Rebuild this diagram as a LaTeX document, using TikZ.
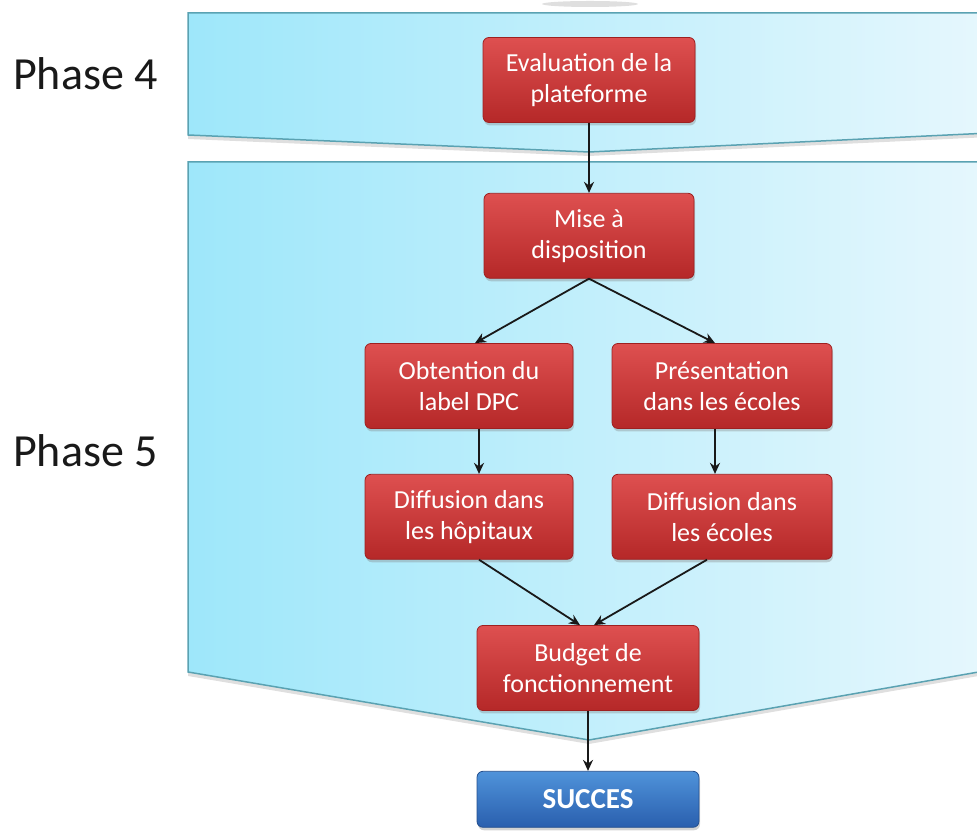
\documentclass[tikz,border=0pt]{standalone}
\usepackage{fontspec}
\setmainfont{Carlito}
\usepackage{tikz}
\usetikzlibrary{positioning}
\usetikzlibrary{shadows}
\usetikzlibrary{arrows.meta}

\definecolor{bandleft}{HTML}{9EE7FA}
\definecolor{bandright}{HTML}{E6F7FD}
\definecolor{bandline}{HTML}{5AA2B2}
\definecolor{tasktop}{HTML}{DE5050}
\definecolor{taskbottom}{HTML}{B52828}
\definecolor{taskline}{HTML}{9E2020}
\definecolor{goaltop}{HTML}{4F93DA}
\definecolor{goalbottom}{HTML}{2A5FAE}
\definecolor{goalline}{HTML}{25508F}

\newcommand{\taskfont}{\fontsize{26}{31}\selectfont}
\newcommand{\goalfont}{\fontsize{29}{34}\selectfont\bfseries}
\newcommand{\phasefont}{\fontsize{46}{54}\selectfont}

\begin{document}
\begin{tikzpicture}[
		x=1pt,y=1pt,
		>={Stealth[length=11pt,width=10pt]},
		band/.style={draw=bandline,line width=1.5pt,left color=bandleft,right color=bandright,
			drop shadow={shadow xshift=0pt,shadow yshift=-4pt,opacity=0.25}},
		task/.style={draw=taskline,thick,top color=tasktop,bottom color=taskbottom,rectangle,rounded corners=6pt,
			minimum width=210pt,minimum height=85pt,align=center,text=white,font=\taskfont,
			drop shadow={shadow xshift=1pt,shadow yshift=-3pt,opacity=0.35}},
		goal/.style={task,draw=goalline,top color=goaltop,bottom color=goalbottom,minimum height=56pt,font=\goalfont},
		phase/.style={font=\phasefont,text=black!90,anchor=base west,inner sep=0pt},
		link/.style={->,line width=1.8pt,draw=black!90}
	]
		\useasboundingbox (0,0) rectangle (977,832);

		% phase bands
		\fill[gray,opacity=0.25] (590,828) ellipse [x radius=48,y radius=3];
		\path[band] (188,819) -- (990,819) -- (990,699) -- (589,680) -- (188,697) -- cycle;
		\path[band] (188,670) -- (990,670) -- (990,162) -- (589,92) -- (188,160) -- cycle;

		\node [phase] (phase4) at (13,742) {Phase 4};
		\node [phase] (phase5) at (13,365) {Phase 5};

		% tasks
		\node [task,minimum width=212pt] (evaluation) at (589,752) {Evaluation de la\\plateforme};
		\node [task,below=70pt of evaluation] (mise) {Mise à\\disposition};
		\node [task,minimum width=208pt] (obtention) at (469,446) {Obtention du\\label DPC};
		\node [task,minimum width=220pt] (presentation) at (722,446) {Présentation\\dans les écoles};
		\node [task,minimum width=208pt,below=45pt of obtention] (diff_hopitaux) {Diffusion dans\\les hôpitaux};
		\node [task,minimum width=220pt,below=45pt of presentation] (diff_ecoles) {Diffusion dans\\les écoles};
		\node [task,minimum width=222pt] (budget) at (588,164) {Budget de\\fonctionnement};
		\node [goal,minimum width=222pt,below=60pt of budget] (succes) {SUCCES};

		\draw [link] (evaluation) -- (mise);
		\draw [link] (mise.south) -- ([xshift=6pt]obtention.north);
		\draw [link] (mise.south) -- ([xshift=-7pt]presentation.north);
		\draw [link] ([xshift=10pt]obtention.south) -- ([xshift=10pt]diff_hopitaux.north);
		\draw [link] ([xshift=-7pt]presentation.south) -- ([xshift=-7pt]diff_ecoles.north);
		\draw [link] ([xshift=10pt]diff_hopitaux.south) -- ([xshift=-8pt]budget.north);
		\draw [link] ([xshift=-15pt]diff_ecoles.south) -- ([xshift=6pt]budget.north);
		\draw [link] (budget) -- (succes);
	\end{tikzpicture}
\end{document}
